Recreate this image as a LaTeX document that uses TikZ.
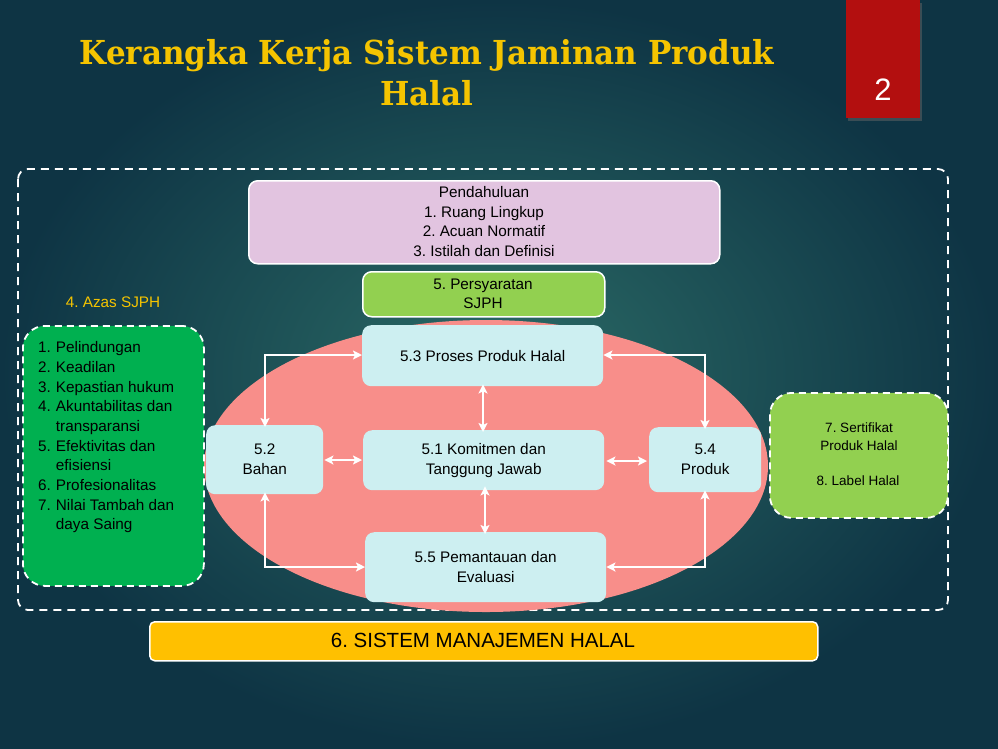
\documentclass[tikz,border=0pt]{standalone}
\usepackage{fontspec}
\setmainfont{Liberation Sans}
\newfontfamily\titlefont{DejaVu Serif}
\usetikzlibrary{arrows.meta,shapes.geometric}
\definecolor{bgin}{HTML}{2B6B66}
\definecolor{bgout}{HTML}{0E3444}
\definecolor{titley}{HTML}{F5C400}
\definecolor{redbox}{HTML}{B30F0F}
\definecolor{pinkbox}{HTML}{E2C4E0}
\definecolor{lgreen}{HTML}{92D050}
\definecolor{dgreen}{HTML}{00B050}
\definecolor{salmon}{HTML}{F88E8A}
\definecolor{cyanbox}{HTML}{CDEFF1}
\definecolor{ybar}{HTML}{FFC000}
\frenchspacing
\tikzset{
  boxs/.style={draw=white, line width=1.5pt, rounded corners=9pt, text=black},
  cbox/.style={fill=cyanbox, rounded corners=9pt},
  btxt/.style={font=\fontsize{15.3}{20}\selectfont, align=center, text=black},
  link/.style={draw=white, line width=1.8pt, {Stealth[length=9pt,width=9pt,inset=2pt]}-{Stealth[length=9pt,width=9pt,inset=2pt]}},
  dashbox/.style={draw=white, line width=1.8pt, dash pattern=on 7pt off 5pt, rounded corners=22pt}
}
\begin{document}
\begin{tikzpicture}[x=1pt,y=-1pt]
\useasboundingbox (0,0) rectangle (998,748);
\shade[inner color=bgin, outer color=bgout] (0,0) rectangle (998,748);
% title
\node[text=titley, font=\titlefont\bfseries\fontsize{33}{41}\selectfont, align=center] (title) at (427,73) {\scalebox{0.94}[1]{Kerangka Kerja Sistem Jaminan Produk}\\\scalebox{0.94}[1]{Halal}};
% red tab
\fill[black!60, opacity=0.5] (848,3) rectangle (922,121);
\node[fill=redbox, minimum width=74pt, minimum height=118pt, inner sep=0pt, anchor=north west] (tab) at (846,0) {};
\node[text=white, font=\fontsize{31}{31}\selectfont] (pg) at (883,90) {2};
% outer dashed
\draw[draw=white, line width=1.8pt, dash pattern=on 8pt off 6pt, rounded corners=10pt] (18,169) rectangle (948,610);
% pendahuluan
\node[boxs, fill=pinkbox, minimum width=471pt, minimum height=83pt, anchor=north west, inner sep=0pt] (pend) at (248,180) {};
\node[btxt, font=\fontsize{15.3}{19.6}\selectfont, anchor=north] (pendt) at (484,183) {Pendahuluan\\1. Ruang Lingkup\\2. Acuan Normatif\\3. Istilah dan Definisi};
% persyaratan
\node[boxs, fill=lgreen, minimum width=242pt, minimum height=45pt, anchor=north west, inner sep=0pt] (pers) at (362,271) {};
\node[btxt, font=\fontsize{15.3}{19.5}\selectfont] (perst) at (483,294) {5. Persyaratan\\SJPH};
% ellipse
\node[ellipse, fill=salmon, minimum width=564pt, minimum height=292pt, inner sep=0pt] (ell) at (486,466) {};
% cyan boxes
\node[cbox, minimum width=241pt, minimum height=61pt, anchor=north west, inner sep=0pt] (b53) at (362,325) {};
\node[btxt] (b53t) at (b53.center) {5.3 Proses Produk Halal};
\node[cbox, minimum width=241pt, minimum height=60pt, anchor=north west, inner sep=0pt] (b51) at (363,430) {};
\node[btxt] (b51t) at (b51.center) {5.1 Komitmen dan\\Tanggung Jawab};
\node[cbox, minimum width=241pt, minimum height=70pt, anchor=north west, inner sep=0pt] (b55) at (365,532) {};
\node[btxt] (b55t) at (b55.center) {5.5 Pemantauan dan\\Evaluasi};
\node[cbox, minimum width=117pt, minimum height=69pt, anchor=north west, inner sep=0pt] (b52) at (206,425) {};
\node[btxt] (b52t) at (b52.center) {5.2\\Bahan};
\node[cbox, minimum width=112pt, minimum height=65pt, anchor=north west, inner sep=0pt] (b54) at (649,427) {};
\node[btxt] (b54t) at (b54.center) {5.4\\Produk};
% connectors
\coordinate (c1) at (265,355);
\coordinate (c2) at (265,567);
\coordinate (c3) at (705,355);
\coordinate (c4) at (705,567);
\draw[link] ([yshift=-2pt]b52.north -| c1) -- (c1) -- (c1 -| b53.west);
\draw[link] ([yshift=2pt]b52.south -| c2) -- (c2) -- (c2 -| b55.west);
\draw[link] (c3 -| b53.east) -- (c3) -- ([yshift=-2pt]c3 |- b54.north);
\draw[link] (c4 -| b55.east) -- (c4) -- ([yshift=2pt]c4 |- b54.south);
\draw[link] ([xshift=1pt]b52.east |- 0,460) -- ([xshift=-1pt]b51.west |- 0,460);
\draw[link] ([xshift=2pt]b51.east |- 0,461) -- ([xshift=-2pt]b54.west |- 0,461);
\draw[link] ([yshift=2pt]b53.south -| 483,0) -- ([yshift=-2pt]b51.north -| 483,0);
\draw[link] ([yshift=4pt]b51.south -| 485,0) -- ([yshift=-2pt]b55.north -| 485,0);
% left green
\node[text=titley, font=\fontsize{15.3}{16}\selectfont] (azas) at (113,302) {4. Azas SJPH};
\node[dashbox, fill=dgreen, minimum width=181pt, minimum height=260pt, anchor=north west, inner sep=0pt] (azbox) at (22,325) {};
\node[anchor=north west, font=\fontsize{15.3}{19.65}\selectfont, align=left, inner sep=0pt] (azlist) at (38,339) {%
\begin{tabular}{@{}l@{\hspace{5pt}}l@{}}
1. & Pelindungan\\
2. & Keadilan\\
3. & Kepastian hukum\\
4. & Akuntabilitas dan\\
   & transparansi\\
5. & Efektivitas dan\\
   & efisiensi\\
6. & Profesionalitas\\
7. & Nilai Tambah dan\\
   & daya Saing
\end{tabular}};
% right green
\node[dashbox, fill=lgreen, minimum width=178pt, minimum height=125pt, anchor=north west, inner sep=0pt] (rbox) at (769,392) {};
\node[btxt, font=\fontsize{13.5}{18}\selectfont] (rt1) at (859,437) {7. Sertifikat\\Produk Halal};
\node[btxt, font=\fontsize{13.5}{18}\selectfont] (rt2) at (858,481) {8. Label Halal};
% bottom bar
\node[draw=white, line width=1.5pt, fill=ybar, rounded corners=5pt, minimum width=668pt, minimum height=39pt, anchor=north west, inner sep=0pt] (bar) at (149,621) {};
\node[font=\fontsize{20.5}{22}\selectfont] (bart) at (483,640) {6. SISTEM MANAJEMEN HALAL};
\end{tikzpicture}
\end{document}
